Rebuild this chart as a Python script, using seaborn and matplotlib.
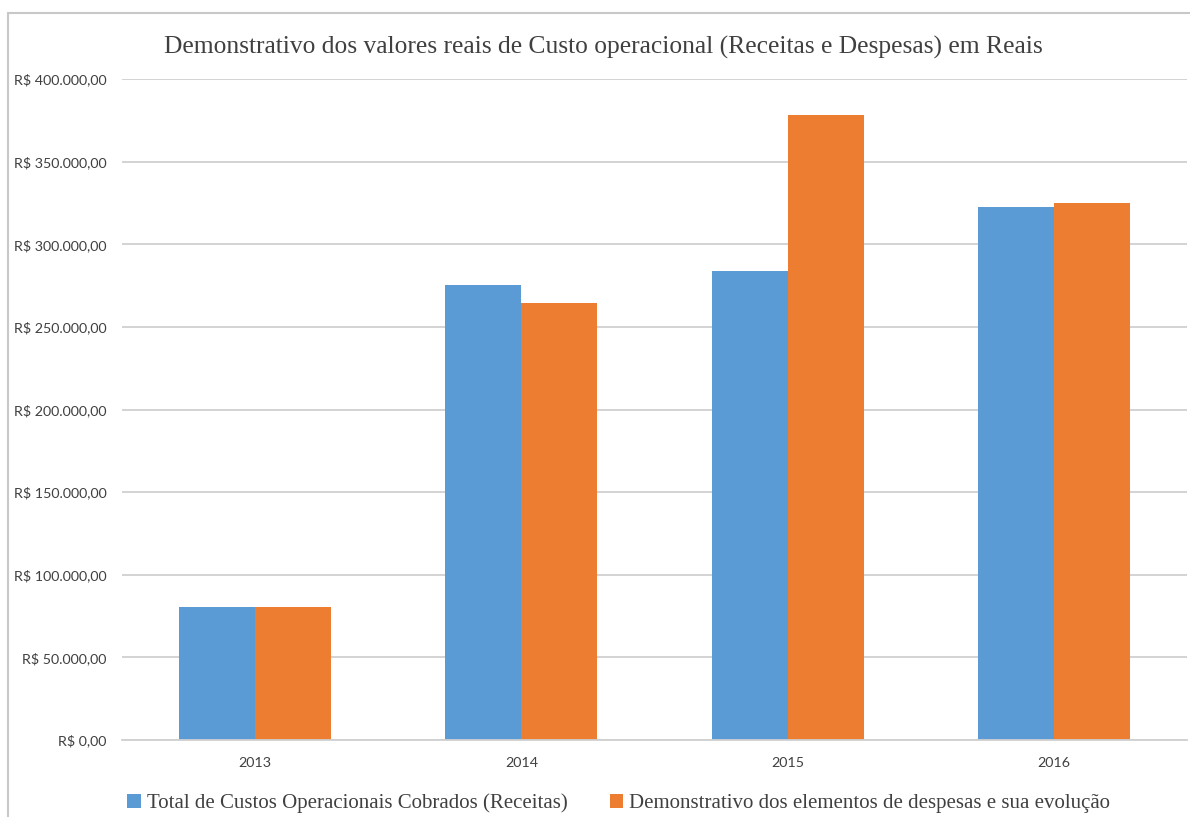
import numpy as np
import pandas as pd
import seaborn as sns
import matplotlib.pyplot as plt
from matplotlib.patches import Rectangle
from matplotlib.ticker import FuncFormatter

# Chart data.
years = ["2013", "2014", "2015", "2016"]
receitas = [80500, 275300, 283800, 322500]
despesas = [80500, 264400, 378200, 325000]
series_names = [
    "Total de Custos Operacionais Cobrados (Receitas)",
    "Demonstrativo dos elementos de despesas e sua evolução",
]
colors = ["#5B9BD5", "#ED7D31"]

df = pd.DataFrame({"Ano": years, series_names[0]: receitas, series_names[1]: despesas})
df = df.melt(id_vars="Ano", var_name="Serie", value_name="Valor")

sns.set_style("white")
plt.rcParams["font.family"] = ["Lato", "DejaVu Sans"]

fig = plt.figure(figsize=(11.9, 8.17), dpi=100)
ax = fig.add_axes([122 / 1190, 1 - 740 / 817, (1187 - 122) / 1190, (740 - 79) / 817])

sns.barplot(data=df, x="Ano", y="Valor", hue="Serie", palette=colors,
            width=0.57, gap=0, saturation=1, linewidth=0, ax=ax, legend=True)

# Axis formatting.
def reais(v, pos):
    s = f"{v:,.2f}".replace(",", "X").replace(".", ",").replace("X", ".")
    return "R$ " + s

ax.set_ylim(0, 400000)
ax.set_yticks(np.arange(0, 400001, 50000))
ax.yaxis.set_major_formatter(FuncFormatter(reais))
ax.grid(axis="y", color="#d0d0d0", linewidth=1.3)
ax.set_axisbelow(True)
for s in ["top", "right", "left"]:
    ax.spines[s].set_visible(False)
ax.spines["bottom"].set_color("#d0d0d0")
ax.spines["bottom"].set_linewidth(1.3)
ax.tick_params(axis="both", length=0, labelsize=10.3, colors="#404040")
ax.tick_params(axis="y", pad=11)
ax.tick_params(axis="x", pad=12)
ax.set_xlabel("")
ax.set_ylabel("")

# Title and legend.
fig.text(0.507, 1 - 47 / 817, "Demonstrativo dos valores reais de Custo operacional (Receitas e Despesas) em Reais",
         ha="center", va="center", fontsize=18.4, color="#404040",
         family=["Liberation Serif", "DejaVu Serif"])
handles, labels = ax.get_legend_handles_labels()
ax.get_legend().remove()
fig.legend(handles, labels, loc="center", bbox_to_anchor=(0.52, 1 - 803 / 817), ncol=2,
           frameon=False, handlelength=0.65, handleheight=0.65, handletextpad=0.3,
           columnspacing=2.0,
           prop={"family": ["Liberation Serif", "DejaVu Serif"], "size": 15.0})
for t in fig.legends[0].get_texts():
    t.set_color("#404040")

# Outer chart border.
fig.patches.append(Rectangle((8 / 1190, -0.05), 1.2, 1 - 13 / 817 + 0.05,
                             transform=fig.transFigure, fill=False,
                             edgecolor="#c8c8c8", linewidth=1.5))

fig.savefig("out.png", dpi=100)
